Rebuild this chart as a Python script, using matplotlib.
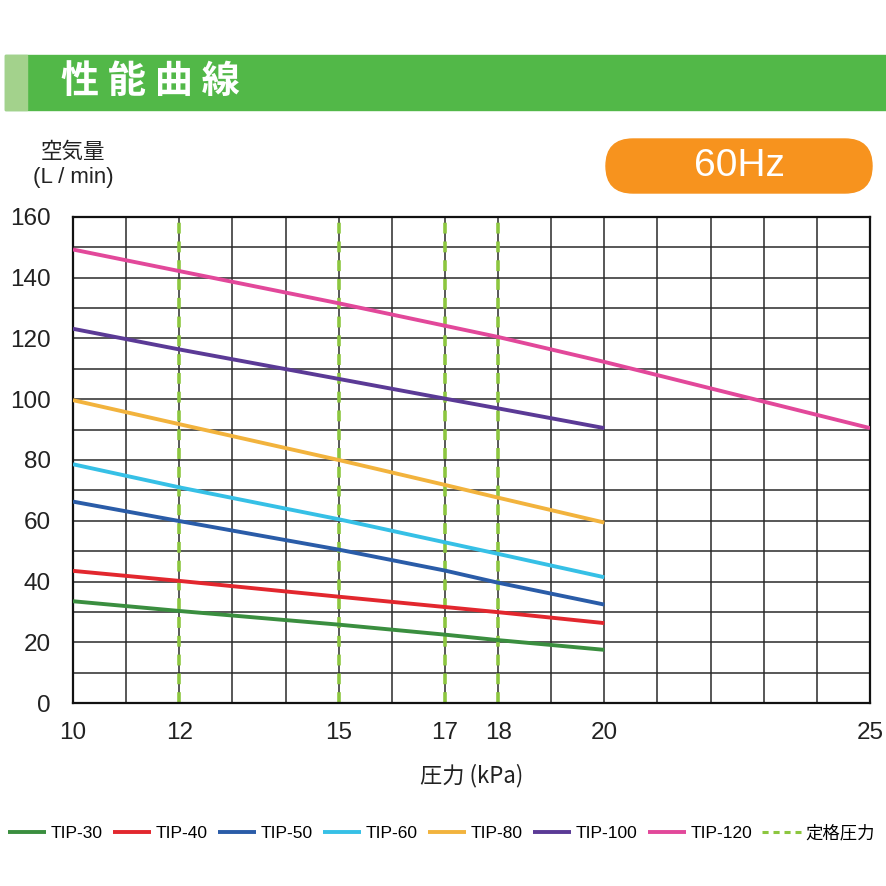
"""Performance curves (60Hz) for the TIP series blowers."""

import matplotlib

matplotlib.use("Agg")
import matplotlib.pyplot as plt
from matplotlib.patches import FancyBboxPatch, Rectangle
from matplotlib.ticker import MultipleLocator

plt.rcParams["font.family"] = ["Liberation Sans", "Noto Sans CJK JP"]
CJK = ["Noto Sans CJK JP", "Liberation Sans"]

# pressure [kPa] where curves were read
pressure = [10, 12, 15, 17, 18, 20]
pressure_120 = [10, 12, 15, 18, 20, 25]

tip30 = [33.5, 30.3, 25.8, 22.5, 20.7, 17.5]
tip40 = [43.5, 40.2, 35.0, 31.6, 29.9, 26.3]
tip50 = [66.3, 59.9, 50.5, 43.6, 39.6, 32.4]
tip60 = [78.6, 71.0, 60.5, 52.9, 49.1, 41.4]
tip80 = [99.7, 91.8, 80.0, 71.8, 67.6, 59.4]
tip100 = [123.2, 116.4, 106.7, 100.2, 97.0, 90.5]
tip120 = [149.3, 142.2, 131.6, 120.5, 112.3, 90.5]

rated_pressure = [12, 15, 17, 18]

series = [
    ("TIP-30", pressure, tip30, "#3a8e3f"),
    ("TIP-40", pressure, tip40, "#e2272e"),
    ("TIP-50", pressure, tip50, "#2a5ca8"),
    ("TIP-60", pressure, tip60, "#36c0e6"),
    ("TIP-80", pressure, tip80, "#f2b33d"),
    ("TIP-100", pressure, tip100, "#5b3a96"),
    ("TIP-120", pressure_120, tip120, "#e2489a"),
]
RATED_COLOR = "#8cc63f"


def main():
    fig = plt.figure(figsize=(8.86, 8.86), dpi=100)
    W = H = 886.0

    # header band
    fig.patches.append(
        Rectangle((5 / W, 1 - 110 / H), 881 / W, 55 / H,
                  transform=fig.transFigure, color="#52b848", zorder=0)
    )
    fig.patches.append(
        Rectangle((5 / W, 1 - 110 / H), 22 / W, 55 / H,
                  transform=fig.transFigure, color="#a3d28c", zorder=1)
    )
    fig.text(61 / W, 1 - 82 / H, "性 能 曲 線", color="white", fontsize=27.5,
             fontweight="bold", va="center", ha="left", family=CJK)

    # 60Hz badge
    fig.patches.append(
        FancyBboxPatch((606 / W, 1 - 193 / H), 266 / W, 54 / H,
                       boxstyle="round,pad=0,rounding_size=0.0305",
                       transform=fig.transFigure, color="#f7931e",
                       mutation_aspect=1)
    )
    fig.text(739 / W, 1 - 166 / H, "60Hz", color="white", fontsize=28,
             va="center", ha="center")

    # axis titles
    fig.text(73 / W, 1 - 152 / H, "空気量", fontsize=15.5, ha="center",
             va="center", color="#222222", family=CJK)
    fig.text(73 / W, 1 - 178 / H, "(L / min)", fontsize=16, ha="center",
             va="center", color="#222222")

    ax = fig.add_axes([73 / W, 1 - 703 / H, 797 / W, 486 / H])
    ax.set_xlim(10, 25)
    ax.set_ylim(0, 160)

    ax.set_xticks([10, 12, 15, 17, 18, 20, 25])
    ax.xaxis.set_minor_locator(MultipleLocator(1))
    ax.yaxis.set_major_locator(MultipleLocator(20))
    ax.yaxis.set_minor_locator(MultipleLocator(10))
    ax.tick_params(which="both", length=0)
    ax.tick_params(axis="y", pad=16, labelsize=17.5, labelcolor="#222222")
    ax.tick_params(axis="x", pad=14, labelsize=17.5, labelcolor="#222222")
    ax.grid(which="both", color="#2a2a2a", linewidth=1.1)
    ax.set_axisbelow(True)
    for spine in ax.spines.values():
        spine.set_linewidth(1.6)
        spine.set_color("#111111")

    for x in rated_pressure:
        ax.axvline(x, color=RATED_COLOR, linewidth=2.6, linestyle=(0, (3, 2.2)),
                   zorder=2)

    for label, xs, ys, color in series:
        ax.plot(xs, ys, color=color, linewidth=2.8, label=label, zorder=3,
                solid_capstyle="butt")
    ax.plot([], [], color=RATED_COLOR, linewidth=2.2, linestyle=(0, (2, 1.6)),
            label="定格圧力")

    ax.set_xlabel("圧力 (kPa)", fontsize=16, labelpad=14, color="#222222",
                  family=CJK)

    handles, labels = ax.get_legend_handles_labels()
    leg = fig.legend(handles, labels, loc="center",
                     bbox_to_anchor=(0.498, 1 - 833 / H), ncol=8, frameon=False,
                     fontsize=12.5, handlelength=2.2, handletextpad=0.25,
                     columnspacing=0.6, borderaxespad=0, borderpad=0)
    for text in leg.get_texts():
        text.set_family(CJK if text.get_text() == "定格圧力" else
                        ["Liberation Sans"])

    fig.savefig("out.png", dpi=100, facecolor="white")


if __name__ == "__main__":
    main()
